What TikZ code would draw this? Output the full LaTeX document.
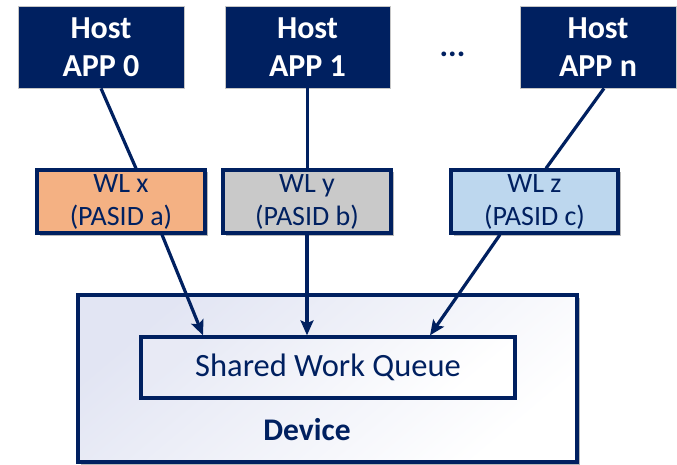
\documentclass[tikz,border=0pt]{standalone}
\usepackage{fontspec}
\setmainfont{Carlito}
\usetikzlibrary{arrows.meta,shadows,calc}
\definecolor{navy}{RGB}{0,32,96}
\definecolor{wlorange}{RGB}{244,177,131}
\definecolor{wlgrey}{RGB}{201,201,201}
\definecolor{wlblue}{RGB}{189,215,238}
\definecolor{devtint}{RGB}{226,229,243}
\begin{document}
\begin{tikzpicture}[x=1pt,y=-1pt,
  hostbox/.style={fill=navy, draw=gray!45, line width=0.8pt, minimum height=82pt,
    inner sep=0pt, text=white, align=center, font=\fontsize{32}{38}\selectfont\bfseries},
  softshadow/.style={drop shadow={shadow xshift=2.5pt, shadow yshift=-2.5pt,
    fill=black, opacity=0.28}},
  wlbox/.style={draw=navy, line width=3.3pt, minimum width=168pt, minimum height=63pt,
    inner sep=0pt, text=navy, align=center, font=\fontsize{28}{33}\selectfont, softshadow},
  link/.style={draw=navy, line width=3.2pt},
  flow/.style={link, -{Stealth[length=15pt,width=13pt,inset=3pt]}},
]
\useasboundingbox (0,0) rectangle (677,465);

% host applications
\node[hostbox, minimum width=166pt] (h0) at (101,47) {Host\\APP 0};
\node[hostbox, minimum width=165pt] (h1) at (307.5,47) {Host\\APP 1};
\node[hostbox, minimum width=156pt] (hn) at (598,47) {Host\\APP n};
\node[anchor=base, text=navy, font=\fontsize{32}{36}\selectfont\bfseries, inner sep=0pt] (dots) at (452.5,57) {...};

% workloads with their PASIDs
\node[wlbox, fill=wlorange] (wx) at (121,201.5) {WL x\\(PASID a)};
\node[wlbox, fill=wlgrey] (wy) at (307,201.5) {WL y\\(PASID b)};
\node[wlbox, fill=wlblue, minimum width=167pt] (wz) at (534.5,201.5) {WL z\\(PASID c)};

% device with its shared work queue
\node[draw=navy, line width=3.3pt, minimum width=499pt, minimum height=167pt, inner sep=0pt,
  top color=devtint, bottom color=white, shading angle=40, softshadow] (dev) at (327.5,378.5) {};
\node[draw=navy, line width=3.3pt, minimum width=374pt, minimum height=61pt, inner sep=0pt,
  top color=devtint!80, bottom color=white, shading angle=40, text=navy,
  font=\fontsize{32.5}{36}\selectfont] (swq) at (328,367.5) {Shared Work Queue};
\node[anchor=base, text=navy, font=\fontsize{31.5}{36}\selectfont\bfseries, inner sep=0pt] (devlabel) at (307,440) {Device};

% host to workload links
\draw[link] (h0.south) -- ([xshift=15pt]wx.north);
\draw[link] (h1.south) -- (h1.south |- wy.north);
\draw[link] ([xshift=6pt]hn.south) -- ([xshift=11.5pt]wz.north);

% workload submissions into the queue
\draw[flow] ([xshift=41pt]wx.south) -- ([xshift=-125pt]swq.north);
\draw[flow] (wy.south) -- (wy.south |- swq.north);
\draw[flow] ([xshift=-34.5pt]wz.south) -- ([xshift=102pt]swq.north);
\end{tikzpicture}
\end{document}
